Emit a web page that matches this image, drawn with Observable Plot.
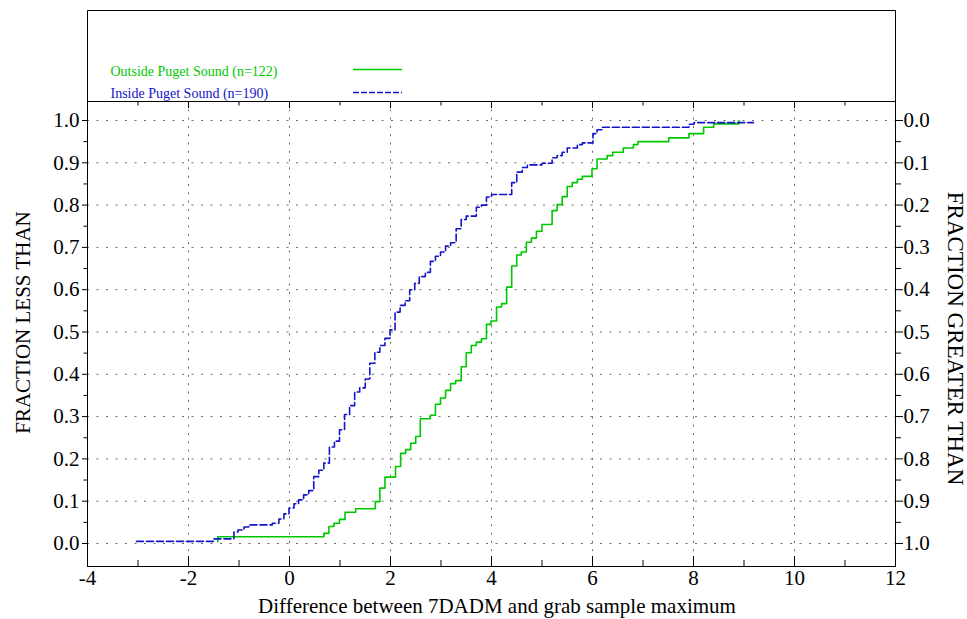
<!DOCTYPE html>
<html>
<head>
<meta charset="utf-8">
<script src="https://cdn.jsdelivr.net/npm/d3@7"></script>
<script src="https://cdn.jsdelivr.net/npm/@observablehq/plot@0.6"></script>
<style>
  body { margin: 0; background: #fff; }
  #wrap { position: relative; width: 967px; height: 619px; overflow: hidden; }
  #wrap svg { position: absolute; left: 0; top: 0; }
</style>
</head>
<body>
<div id="wrap"></div>
<script>
// ---- data ----
const seriesNames = ["Outside Puget Sound (n=122)", "Inside Puget Sound (n=190)"];
const seriesColors = ["#00c800", "#1414c8"];

// Inside Puget Sound: step positions and cumulative fraction after each step
const insideX = [-3.03, -1.50, -1.10, -1.02, -0.90, -0.81, -0.34, -0.21, -0.11, -0.01,
  0.09, 0.18, 0.28, 0.38, 0.48, 0.58, 0.68, 0.79, 0.89, 0.99,
  1.09, 1.19, 1.29, 1.39, 1.50, 1.59, 1.69, 1.79, 1.89, 1.99,
  2.09, 2.19, 2.29, 2.38, 2.48, 2.57, 2.69, 2.79, 2.89, 2.99,
  3.09, 3.19, 3.30, 3.40, 3.50, 3.70, 3.80, 3.90, 4.00, 4.40,
  4.50, 4.61, 4.71, 5.00, 5.20, 5.30, 5.40, 5.50, 5.70, 5.80,
  6.01, 6.09, 6.19, 7.91, 8.01, 9.19];
const insideF = [0.005, 0.011, 0.027, 0.032, 0.039, 0.044, 0.048, 0.058, 0.070, 0.084,
  0.094, 0.103, 0.115, 0.125, 0.158, 0.173, 0.190, 0.228, 0.242, 0.269,
  0.305, 0.326, 0.358, 0.368, 0.389, 0.426, 0.452, 0.468, 0.485, 0.505,
  0.547, 0.563, 0.574, 0.600, 0.615, 0.631, 0.641, 0.667, 0.679, 0.689,
  0.703, 0.711, 0.744, 0.766, 0.774, 0.795, 0.800, 0.819, 0.825, 0.853,
  0.878, 0.889, 0.895, 0.899, 0.912, 0.917, 0.925, 0.935, 0.943, 0.947,
  0.969, 0.978, 0.984, 0.991, 0.995, 0.995];

// Outside Puget Sound
const outsideX = [-1.42, -1.42, 0.68, 0.78, 0.88, 0.99, 1.10, 1.31, 1.70, 1.79,
  1.89, 2.10, 2.20, 2.30, 2.40, 2.50, 2.59, 2.79, 2.89, 2.99,
  3.09, 3.19, 3.29, 3.40, 3.50, 3.60, 3.70, 3.80, 3.90, 3.99,
  4.10, 4.20, 4.30, 4.40, 4.50, 4.59, 4.69, 4.79, 4.89, 5.00,
  5.20, 5.30, 5.40, 5.50, 5.60, 5.70, 5.80, 5.99, 6.09, 6.29,
  6.40, 6.61, 6.81, 6.90, 7.51, 7.91, 8.20, 8.40, 8.90];
const outsideF = [0.004, 0.016, 0.024, 0.040, 0.048, 0.057, 0.074, 0.082, 0.099, 0.131,
  0.157, 0.182, 0.213, 0.222, 0.237, 0.253, 0.295, 0.303, 0.329, 0.344,
  0.362, 0.378, 0.385, 0.418, 0.451, 0.468, 0.476, 0.484, 0.518, 0.526,
  0.559, 0.567, 0.606, 0.656, 0.682, 0.689, 0.712, 0.722, 0.738, 0.754,
  0.787, 0.801, 0.820, 0.844, 0.853, 0.861, 0.868, 0.886, 0.909, 0.917,
  0.925, 0.935, 0.943, 0.950, 0.959, 0.969, 0.984, 0.992, 1.000];

const xTicks = [-4, -2, 0, 2, 4, 6, 8, 10, 12];
const xMinorTicks = [-3, -1, 1, 3, 5, 7, 9, 11];
const yTicks = [0.0, 0.1, 0.2, 0.3, 0.4, 0.5, 0.6, 0.7, 0.8, 0.9, 1.0];
const yMinorTicks = [0.05, 0.15, 0.25, 0.35, 0.45, 0.55, 0.65, 0.75, 0.85, 0.95];

const xTitle = "Difference between 7DADM and grab sample maximum";
const yLeftTitle = "FRACTION LESS THAN";
const yRightTitle = "FRACTION GREATER THAN";

// ---- build ----
const inside = insideX.map((x, i) => ({x, f: insideF[i]}));
const outside = outsideX.map((x, i) => ({x, f: outsideF[i]}));
const serif = "'Liberation Serif', 'Times New Roman', serif";
const blank = () => "";

const chart = Plot.plot({
  width: 967,
  height: 619,
  marginLeft: 87,
  marginRight: 72,
  marginTop: 101,
  marginBottom: 53,
  style: {fontFamily: serif, fontSize: "21px", color: "#000", background: "#fff", overflow: "visible"},
  x: {domain: [-4, 12]},
  y: {domain: [-0.0544, 1.0449]},
  marks: [
    Plot.gridX(xTicks.slice(1, -1), {stroke: "#6a6a6a", strokeOpacity: 1, strokeDasharray: "2,6.3"}),
    Plot.gridY(yTicks, {stroke: "#6a6a6a", strokeOpacity: 1, strokeDasharray: "2,7.5"}),
    Plot.line(outside, {x: "x", y: "f", curve: "step-after", stroke: seriesColors[0], strokeWidth: 1.6}),
    Plot.line(inside, {x: "x", y: "f", curve: "step-after", stroke: seriesColors[1], strokeWidth: 1.6, strokeDasharray: "7,3"}),
    Plot.frame({stroke: "#000"}),
    // bottom axis: inward ticks + labels
    Plot.axisX(xTicks, {anchor: "bottom", tickSize: 10, dy: -10, tickFormat: blank, label: null}),
    Plot.axisX(xMinorTicks, {anchor: "bottom", tickSize: 6, dy: -6, tickFormat: blank, label: null}),
    Plot.axisX(xTicks, {anchor: "bottom", tickSize: 0, tickPadding: 4, tickFormat: d => String(d), label: null}),
    // top axis: inward ticks
    Plot.axisX(xTicks, {anchor: "top", tickSize: 6, dy: 6, tickFormat: blank, label: null}),
    Plot.axisX(xMinorTicks, {anchor: "top", tickSize: 3.5, dy: 3.5, tickFormat: blank, label: null}),
    // left axis
    Plot.axisY(yTicks, {anchor: "left", tickSize: 5, tickPadding: 3, tickFormat: d3.format(".1f"), label: null}),
    Plot.axisY(yMinorTicks, {anchor: "left", tickSize: 3.5, tickFormat: blank, label: null}),
    // right axis (fraction greater than)
    Plot.axisY(yTicks, {anchor: "right", tickSize: 7, tickPadding: 1, tickFormat: d => (1 - d).toFixed(1), label: null}),
    Plot.axisY(yMinorTicks, {anchor: "right", tickSize: 5, tickFormat: blank, label: null}),
    // titles
    Plot.text([yLeftTitle], {text: d => d, frameAnchor: "left", textAnchor: "middle", lineAnchor: "middle", rotate: -90, dx: -64, dy: -11.5, fontSize: 21}),
    Plot.text([yRightTitle], {text: d => d, frameAnchor: "right", textAnchor: "middle", lineAnchor: "middle", rotate: 90, dx: 59.5, dy: 4.5, fontSize: 23}),
    Plot.text([xTitle], {text: d => d, frameAnchor: "bottom", textAnchor: "middle", lineAnchor: "bottom", dx: 5.5, dy: 46, fontSize: 21})
  ]
});

const wrap = document.getElementById("wrap");
wrap.appendChild(chart);

// legend box above the plot frame
const leg = d3.create("svg").attr("width", 967).attr("height", 102)
  .style("font-family", serif);
leg.append("path")
  .attr("d", "M87.5,101 V10.5 H895.5 V101")
  .attr("fill", "none").attr("stroke", "#000");
const legY = [75.5, 97.5];
const legLineY = [69.5, 92.5];
seriesNames.forEach((name, i) => {
  leg.append("text").attr("x", 110.5).attr("y", legY[i])
    .attr("fill", seriesColors[i]).attr("font-size", 14).text(name);
  leg.append("line").attr("x1", 353).attr("x2", 402).attr("y1", legLineY[i]).attr("y2", legLineY[i])
    .attr("stroke", seriesColors[i]).attr("stroke-width", 1.4)
    .attr("stroke-dasharray", i === 1 ? "6,2" : null);
});
wrap.appendChild(leg.node());
</script>
</body>
</html>
